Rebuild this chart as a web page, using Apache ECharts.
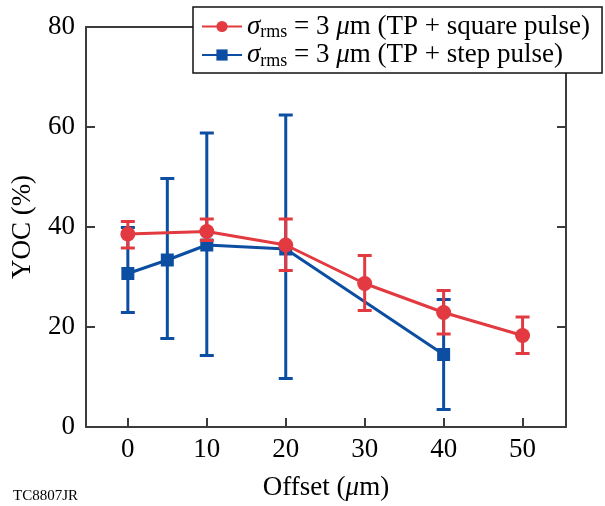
<!DOCTYPE html>
<html>
<head>
<meta charset="utf-8">
<script src="https://cdn.jsdelivr.net/npm/echarts@6/dist/echarts.min.js"></script>
<style>
  html, body { margin: 0; padding: 0; background: #fff; }
  #chart { width: 605px; height: 506px; }
</style>
</head>
<body>
<div id="chart"></div>
<script>
// 数据
const xTicks = [0, 10, 20, 30, 40, 50]
const yTicks = [0, 20, 40, 60, 80]

const squareX = [0, 10, 20, 30, 40, 50]
const squareY = [38.6, 39.1, 36.4, 28.7, 22.9, 18.3]
const squareLow = [35.8, 37.3, 31.3, 23.3, 18.6, 14.7]
const squareHigh = [41.1, 41.6, 41.6, 34.3, 27.3, 22.0]

const stepX = [0, 5, 10, 20, 40]
const stepY = [30.7, 33.4, 36.4, 35.6, 14.5]
const stepLow = [22.9, 17.7, 14.3, 9.7, 3.5]
const stepHigh = [39.9, 49.7, 58.8, 62.4, 25.5]

const RED = '#E23A40'
const BLUE = '#0B4EA2'
const AXIS = '#3c3c3c'
const FONT = 'Liberation Serif'

const nameSquare = 'square'
const nameStep = 'step'
const legendText = {
  square: '{s|σ}{sub|rms} = 3 {s|μ}m (TP + square pulse)',
  step: '{s|σ}{sub|rms} = 3 {s|μ}m (TP + step pulse)'
}

// error bars as custom series
function errorBars(xs, lows, highs, color, z) {
  return {
    type: 'custom',
    z: z,
    silent: true,
    encode: { x: 0, y: [1, 2] },
    data: xs.map((x, i) => [x, lows[i], highs[i]]),
    renderItem(params, api) {
      const x = api.value(0)
      const lo = api.coord([x, api.value(1)])
      const hi = api.coord([x, api.value(2)])
      const hw = 7
      const st = { stroke: color, lineWidth: 3 }
      return {
        type: 'group',
        children: [
          { type: 'line', shape: { x1: lo[0], y1: lo[1], x2: hi[0], y2: hi[1] }, style: st },
          { type: 'line', shape: { x1: lo[0] - hw, y1: lo[1], x2: lo[0] + hw, y2: lo[1] }, style: st },
          { type: 'line', shape: { x1: hi[0] - hw, y1: hi[1], x2: hi[0] + hw, y2: hi[1] }, style: st }
        ]
      }
    }
  }
}

const chart = echarts.init(document.getElementById('chart'))

const axisLine = { show: true, onZero: false, lineStyle: { color: AXIS, width: 2 } }
const axisTick = { show: true, inside: true, length: 9, lineStyle: { color: AXIS, width: 2 } }

chart.setOption({
  animation: false,
  backgroundColor: '#fff',
  grid: { left: 86, right: 39, top: 27, bottom: 79 },
  legend: {
    data: [nameSquare, nameStep],
    orient: 'vertical',
    left: 193,
    top: 7,
    padding: [6, 12, 3, 8],
    itemGap: 0,
    itemWidth: 40,
    itemHeight: 14,
    backgroundColor: '#fff',
    borderColor: '#111',
    borderWidth: 1.5,
    borderRadius: 0,
    formatter: n => legendText[n],
    textStyle: {
      fontFamily: FONT,
      fontSize: 27,
      color: '#000',
      rich: {
        s: { fontFamily: FONT, fontSize: 27, fontStyle: 'italic', color: '#000' },
        sub: { fontFamily: FONT, fontSize: 18, color: '#000', padding: [12, 0, 0, 0] }
      }
    }
  },
  xAxis: [
    {
      type: 'value',
      min: -5.3,
      max: 55.5,
      name: 'Offset ({i|μ}m)',
      nameLocation: 'middle',
      nameGap: 47,
      nameTextStyle: {
        fontFamily: FONT, fontSize: 27, color: '#000',
        rich: { i: { fontFamily: FONT, fontSize: 27, fontStyle: 'italic', color: '#000' } }
      },
      axisLine: axisLine,
      axisTick: Object.assign({ customValues: xTicks }, axisTick),
      axisLabel: { customValues: xTicks, fontFamily: FONT, fontSize: 27, color: '#000', margin: 9 },
      splitLine: { show: false }
    },
    {
      type: 'value',
      position: 'top',
      min: -5.3,
      max: 55.5,
      axisLine: axisLine,
      axisTick: { show: false },
      axisLabel: { show: false },
      splitLine: { show: false }
    }
  ],
  yAxis: [
    {
      type: 'value',
      min: 0,
      max: 80,
      interval: 20,
      name: 'YOC (%)',
      nameLocation: 'middle',
      nameGap: 50,
      nameTextStyle: { fontFamily: FONT, fontSize: 27, color: '#000' },
      axisLine: axisLine,
      axisTick: axisTick,
      axisLabel: { fontFamily: FONT, fontSize: 27, color: '#000', margin: 11 },
      splitLine: { show: false }
    },
    {
      type: 'value',
      position: 'right',
      min: 0,
      max: 80,
      interval: 20,
      axisLine: axisLine,
      axisTick: axisTick,
      axisLabel: { show: false },
      splitLine: { show: false }
    }
  ],
  graphic: [
    {
      type: 'text',
      left: 13,
      top: 489,
      style: { text: 'TC8807JR', fontFamily: FONT, fontSize: 15, fill: '#000' }
    }
  ],
  series: [
    errorBars(stepX, stepLow, stepHigh, BLUE, 2),
    {
      name: nameStep,
      type: 'line',
      z: 3,
      data: stepX.map((x, i) => [x, stepY[i]]),
      symbol: 'rect',
      symbolSize: 13,
      lineStyle: { color: BLUE, width: 3 },
      itemStyle: { color: BLUE }
    },
    errorBars(squareX, squareLow, squareHigh, RED, 4),
    {
      name: nameSquare,
      type: 'line',
      z: 5,
      data: squareX.map((x, i) => [x, squareY[i]]),
      symbol: 'circle',
      symbolSize: 15,
      lineStyle: { color: RED, width: 3 },
      itemStyle: { color: RED }
    }
  ]
})
</script>
</body>
</html>
